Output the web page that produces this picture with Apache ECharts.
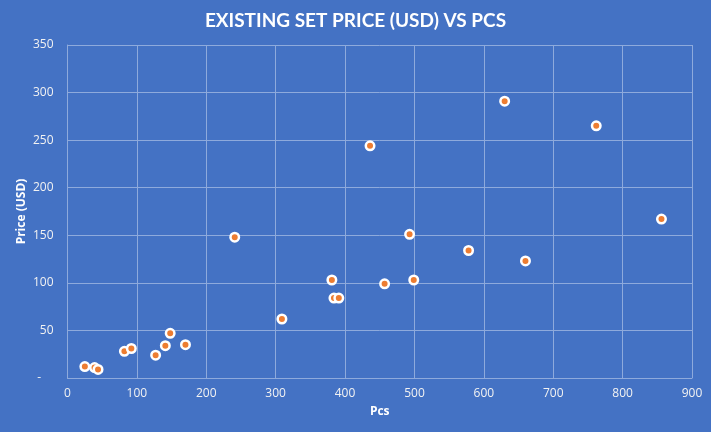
<!DOCTYPE html>
<html><head><meta charset="utf-8">
<script src="https://cdn.jsdelivr.net/npm/echarts@6/dist/echarts.min.js"></script>
<style>html,body{margin:0;padding:0;background:#4472C4;}#c{width:711px;height:432px;}</style>
</head><body><div id="c"></div>
<script>
const titleText = 'EXISTING SET PRICE (USD) VS PCS';
const xName = 'Pcs';
const yName = 'Price (USD)';
const pcs   = [25, 39, 44, 82, 92, 127, 141, 148, 170, 241, 309, 381, 384, 391, 436, 457, 493, 499, 578, 630, 660, 762, 856];
const price = [12, 11, 9, 28, 31, 24, 34, 47, 35, 148, 62, 103, 84, 84, 244, 99, 151, 103, 134, 291, 123, 265, 167];
const points = pcs.map((p, i) => [p, price[i]]);

const chart = echarts.init(document.getElementById('c'));
chart.setOption({
  backgroundColor: '#4472C4',
  animation: false,
  title: {
    text: titleText, left: 'center', top: 6,
    textStyle: { color: '#ffffff', fontSize: 19, fontWeight: 'bold', fontFamily: 'Lato' }
  },
  grid: { left: 67.5, right: 19, top: 45, bottom: 54 },
  xAxis: {
    type: 'value', min: 0, max: 900, interval: 100,
    name: xName, nameLocation: 'middle', nameGap: 28,
    nameTextStyle: { color: '#ffffff', fontWeight: 'bold', fontSize: 12, fontFamily: 'Open Sans' },
    axisLine: { show: true, lineStyle: { color: '#8EAADC', width: 1 } },
    axisTick: { show: false },
    axisLabel: { color: '#F2F2F2', fontSize: 12, margin: 10, fontFamily: 'Open Sans' },
    splitLine: { show: true, lineStyle: { color: '#8EAADC', width: 1 } }
  },
  yAxis: {
    type: 'value', min: 0, max: 350, interval: 50,
    name: yName, nameLocation: 'middle', nameGap: 40, nameRotate: 90,
    nameMoveOverlap: false,
    nameTextStyle: { color: '#ffffff', fontWeight: 'bold', fontSize: 12, fontFamily: 'Open Sans' },
    axisLine: { show: true, lineStyle: { color: '#8EAADC', width: 1 } },
    axisTick: { show: false },
    axisLabel: { color: '#F2F2F2', fontSize: 12, margin: 14, fontFamily: 'Open Sans',
      formatter: v => v === 0 ? '-    ' : String(v) },
    splitLine: { show: true, lineStyle: { color: '#8EAADC', width: 1 } }
  },
  series: [{
    type: 'scatter',
    data: points,
    symbol: 'circle',
    symbolSize: 8.5,
    itemStyle: { color: '#ED7D31', borderColor: '#ffffff', borderWidth: 2.5, opacity: 1 }
  }]
});
</script></body></html>
